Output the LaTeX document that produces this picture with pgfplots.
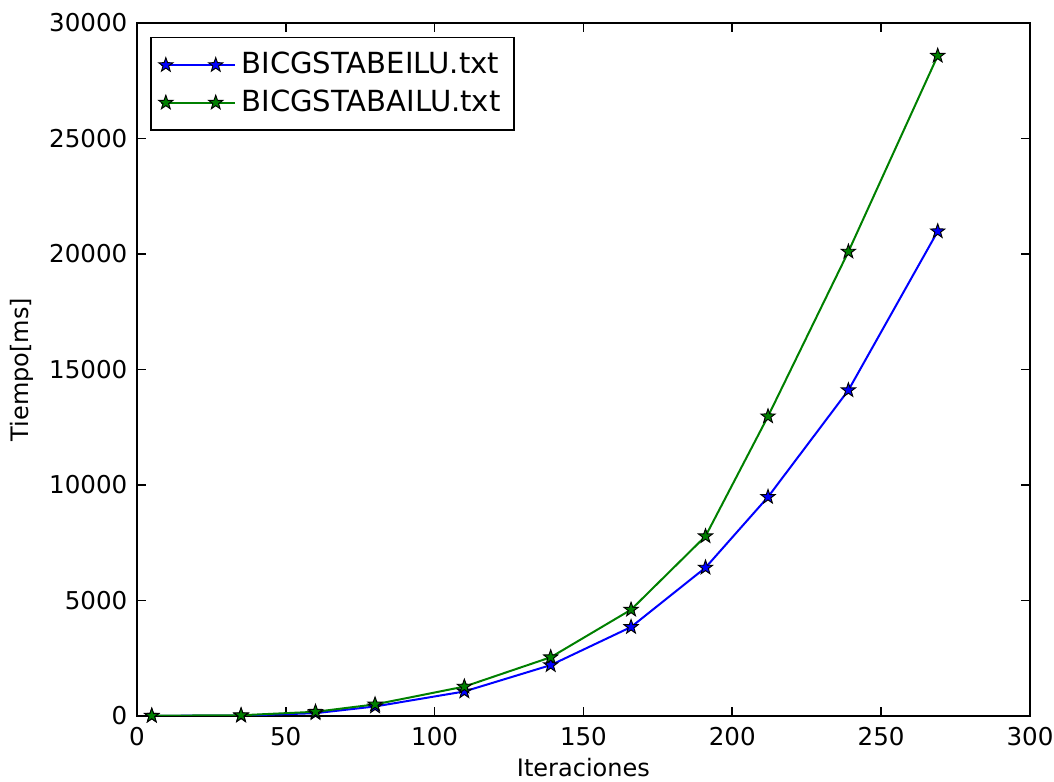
\documentclass[border=0pt]{standalone}
\usepackage{fontspec}
\setmainfont{DejaVu Sans}
\usepackage{pgfplots}
\pgfplotsset{compat=1.18}
\definecolor{mplblue}{rgb}{0,0,1}
\definecolor{mplgreen}{rgb}{0,0.5,0}
\pgfdeclareplotmark{fstar}{%
  \pgfpathmoveto{\pgfpointpolar{90}{\pgfplotmarksize}}%
  \pgfpathlineto{\pgfpointpolar{126}{0.40\pgfplotmarksize}}%
  \pgfpathlineto{\pgfpointpolar{162}{\pgfplotmarksize}}%
  \pgfpathlineto{\pgfpointpolar{198}{0.40\pgfplotmarksize}}%
  \pgfpathlineto{\pgfpointpolar{234}{\pgfplotmarksize}}%
  \pgfpathlineto{\pgfpointpolar{270}{0.40\pgfplotmarksize}}%
  \pgfpathlineto{\pgfpointpolar{306}{\pgfplotmarksize}}%
  \pgfpathlineto{\pgfpointpolar{342}{0.40\pgfplotmarksize}}%
  \pgfpathlineto{\pgfpointpolar{18}{\pgfplotmarksize}}%
  \pgfpathlineto{\pgfpointpolar{54}{0.40\pgfplotmarksize}}%
  \pgfpathclose
  \pgfusepathqfillstroke
}
\pgfplotstableread{
x     y
5     5
35    15
60    120
80    410
110   1060
139   2200
166   3850
191   6420
212   9480
239   14100
269   20980
}\bicgeilu
\pgfplotstableread{
x     y
5     10
35    30
60    180
80    500
110   1270
139   2540
166   4600
191   7780
212   12970
239   20100
269   28580
}\bicgailu
\begin{document}
\begin{tikzpicture}
\begin{axis}[
  at={(0,0)}, anchor=south west,
  scale only axis,
  width=334.7pt, height=259.7pt,
  xmin=0, xmax=300, ymin=0, ymax=30000,
  xtick={0,50,...,300},
  ytick={0,5000,...,30000},
  scaled y ticks=false,
  scaled x ticks=false,
  /pgf/number format/assume math mode=true,
  /pgf/number format/1000 sep={},
  tick align=inside,
  xtick pos=both, ytick pos=both,
  major tick length=3.4pt,
  minor tick num=0,
  axis line style={line width=0.75pt, black},
  every tick/.style={black, line width=0.6pt},
  tick label style={font=\fontsize{9.2}{11}\selectfont, inner sep=0pt},
  xticklabel style={yshift=-4.2pt},
  yticklabel style={xshift=-3.4pt},
  label style={font=\fontsize{9}{11}\selectfont, inner sep=0pt},
  xlabel={Iteraciones},
  ylabel={Tiempo[ms]},
  xlabel style={at={(axis description cs:0.5,-0.075)}, anchor=center},
  ylabel style={at={(axis description cs:-0.1285,0.5)}, anchor=center},
  legend style={
    at={(axis description cs:0.0146,0.98)}, anchor=north west,
    font=\fontsize{10.9}{13}\selectfont,
    draw=black, line width=0.6pt,
    inner xsep=3pt, inner ysep=3.5pt,
    row sep=0.5pt,
    cells={anchor=west},
  },
  legend image code/.code={%
    \path (-2pt,0pt) -- (26pt,0pt);
    \draw[#1] plot coordinates {(0pt,0pt) (18.7pt,0pt)};
  },
  legend cell align=left,
]
\addplot[color=mplblue, line width=0.75pt, mark=fstar, mark size=2.8pt,
  mark options={fill=mplblue, draw=black, line width=0.35pt, solid}]
  table[x=x,y=y] {\bicgeilu};
\addlegendentry{BICGSTABEILU.txt}
\addplot[color=mplgreen, line width=0.75pt, mark=fstar, mark size=2.8pt,
  mark options={fill=mplgreen, draw=black, line width=0.35pt, solid}]
  table[x=x,y=y] {\bicgailu};
\addlegendentry{BICGSTABAILU.txt}
\end{axis}
\path (-51.3pt,-24.7pt) rectangle (343.7pt,268.3pt);
\end{tikzpicture}
\end{document}
